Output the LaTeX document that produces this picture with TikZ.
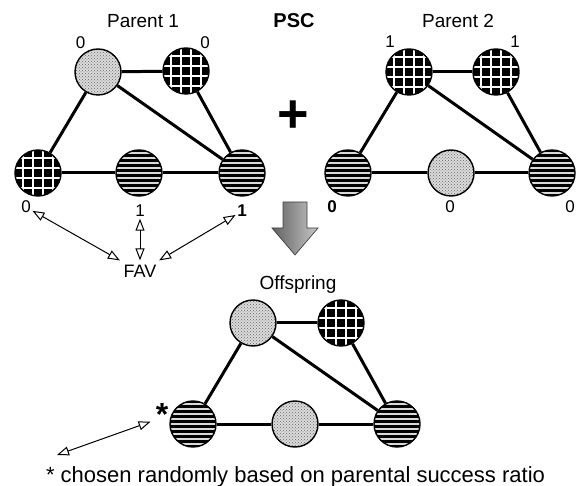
\documentclass[tikz,border=0pt]{standalone}
\usepackage{fontspec}
\setmainfont{Liberation Sans}
\usetikzlibrary{arrows.meta,patterns}

\tikzset{
  gnode/.style={circle, draw=black, line width=1.4pt, minimum size=46pt, inner sep=0pt},
  dotnode/.style={gnode, fill=black!14,
    path picture={\fill[pattern=crosshatch dots, pattern color=black!60]
      (path picture bounding box.south west) rectangle (path picture bounding box.north east);}},
  gridnode/.style={gnode, fill=black,
    path picture={\foreach \d in {-15,-5,5,15}{
      \draw[white, line width=1.4pt] ([xshift=\d pt]path picture bounding box.north) -- ([xshift=\d pt]path picture bounding box.south);
      \draw[white, line width=1.4pt] ([yshift=\d pt]path picture bounding box.west) -- ([yshift=\d pt]path picture bounding box.east);}}},
  stripenode/.style={gnode, fill=black,
    path picture={\foreach \d in {-20,-15,...,20}{
      \draw[white!85!black, line width=1.9pt] ([yshift=\d pt]path picture bounding box.west) -- ([yshift=\d pt]path picture bounding box.east);}}},
  link/.style={line width=3pt},
  lbl/.style={anchor=base, inner sep=1.5pt, font=\fontsize{17}{20}\selectfont},
  blbl/.style={lbl, font=\fontsize{17}{20}\selectfont\bfseries},
  title/.style={anchor=base, inner sep=1pt, font=\fontsize{19}{22}\selectfont},
  favarrow/.style={{Triangle[open,length=12pt,width=9pt]}-{Triangle[open,length=12pt,width=9pt]}, line width=1pt},
}

\begin{document}
\begin{tikzpicture}[x=1pt, y=-1pt]
\useasboundingbox (0,0) rectangle (581,486);

% ---- Parent 1 ----
\node[title] (t1) at (143,28) {Parent 1};
\node[dotnode]    (a1) at (98,72)  {};
\node[gridnode]   (b1) at (186,71) {};
\node[gridnode]   (c1) at (38,173) {};
\node[stripenode] (d1) at (139,173) {};
\node[stripenode] (e1) at (242,173) {};
\draw[link] (a1) -- (b1);
\draw[link] (a1) -- (c1);
\draw[link] (a1) -- (e1);
\draw[link] (b1) -- (e1);
\draw[link] (c1) -- (d1);
\draw[link] (d1) -- (e1);
\node[lbl]  (la1) at (80.5,49) {0};
\node[lbl]  (lb1) at (205,49) {0};
\node[lbl]  (lc1) at (26,213) {0};
\node[lbl]  (ld1) at (140,217) {1};
\node[blbl] (le1) at (242,217) {1};

% ---- fitness attribute vector ----
\node[title, inner sep=5pt, font=\fontsize{18}{21}\selectfont] (fav) at (140,278) {FAV};
\draw[favarrow] (fav) -- (lc1);
\draw[favarrow] (fav) -- (ld1);
\draw[favarrow] (fav) -- (le1);

% ---- operator name and plus ----
\node[title, font=\fontsize{20}{24}\selectfont\bfseries] (psc) at (294,28) {PSC};
\node[anchor=base, inner sep=0pt, font=\fontsize{54}{60}\selectfont\bfseries] (plus) at (293,133) {+};

% ---- Parent 2 ----
\node[title] (t2) at (458,28) {Parent 2};
\node[gridnode]   (a2) at (409,72)  {};
\node[gridnode]   (b2) at (496,72)  {};
\node[stripenode] (c2) at (348,173) {};
\node[dotnode]    (d2) at (451,173) {};
\node[stripenode] (e2) at (552,173) {};
\draw[link] (a2) -- (b2);
\draw[link] (a2) -- (c2);
\draw[link] (a2) -- (e2);
\draw[link] (b2) -- (e2);
\draw[link] (c2) -- (d2);
\draw[link] (d2) -- (e2);
\node[lbl]  (la2) at (390,48) {1};
\node[lbl]  (lb2) at (515,48) {1};
\node[blbl] (lc2) at (332,213) {0};
\node[lbl]  (ld2) at (450,213) {0};
\node[lbl]  (le2) at (570,213) {0};

% ---- shaded down arrow ----
\shade[left color=black!62, right color=black!22, draw=black!75, line width=0.7pt]
  (283,202) -- (307,202) -- (307,228) -- (318,228) -- (295,255) -- (272,228) -- (283,228) -- cycle;

% ---- Offspring ----
\node[title] (t3) at (298,290) {Offspring};
\node[dotnode]    (a3) at (253,323) {};
\node[gridnode]   (b3) at (341,323) {};
\node[stripenode] (c3) at (193,424) {};
\node[dotnode]    (d3) at (295,424) {};
\node[stripenode] (e3) at (397,424) {};
\draw[link] (a3) -- (b3);
\draw[link] (a3) -- (c3);
\draw[link] (a3) -- (e3);
\draw[link] (b3) -- (e3);
\draw[link] (c3) -- (d3);
\draw[link] (d3) -- (e3);

\node[anchor=base, inner sep=0pt, font=\fontsize{32}{36}\selectfont\bfseries] (star) at (162,425.5) {*};
\coordinate (noteend) at (57,455);
\draw[favarrow] ([xshift=-5pt, yshift=4pt]star.south west) -- (noteend);

\node[anchor=base, inner sep=0pt, font=\fontsize{22}{26}\selectfont] (note) at (295.5,482)
  {* chosen randomly based on parental success ratio};
\end{tikzpicture}
\end{document}
